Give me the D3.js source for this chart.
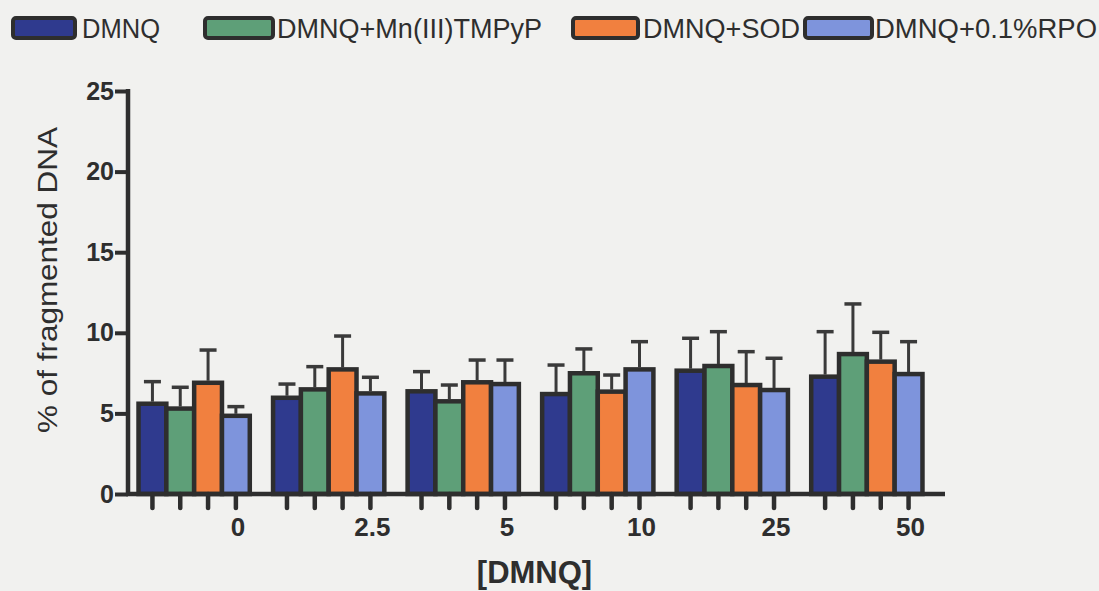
<!DOCTYPE html>
<html>
<head>
<meta charset="utf-8">
<script src="https://cdn.jsdelivr.net/npm/d3@7"></script>
<style>
  html, body { margin: 0; padding: 0; background: #f1f1ef; }
  svg { display: block; }
  text { font-family: "Liberation Sans", Arial, Helvetica, sans-serif; fill: #2e2e2e; }
</style>
</head>
<body>
<svg id="chart" width="1099" height="591"></svg>
<script>
// DMNQ concentrations on the x axis
const categories = ["0", "2.5", "5", "10", "25", "50"];
const seriesNames = ["DMNQ", "DMNQ+Mn(III)TMPyP", "DMNQ+SOD", "DMNQ+0.1%RPO"];
const seriesColors = ["#2f3a8e", "#5e9f78", "#f1803f", "#7e94dc"];

// Mean % of fragmented DNA per series, one entry per concentration
const meanDMNQ   = [5.60, 5.97, 6.37, 6.20, 7.65, 7.28];
const meanMn     = [5.30, 6.49, 5.75, 7.49, 7.94, 8.68];
const meanSOD    = [6.90, 7.73, 6.93, 6.35, 6.76, 8.21];
const meanRPO    = [4.85, 6.24, 6.82, 7.73, 6.45, 7.44];

// Upper error (SEM) per series
const errDMNQ    = [1.37, 0.85, 1.22, 1.80, 2.01, 2.79];
const errMn      = [1.32, 1.41, 1.01, 1.51, 2.13, 3.11];
const errSOD     = [2.03, 2.07, 1.38, 1.03, 2.07, 1.82];
const errRPO     = [0.57, 1.00, 1.49, 1.72, 1.97, 2.01];

const yTicks = [0, 5, 10, 15, 20, 25];

const means = [meanDMNQ, meanMn, meanSOD, meanRPO];
const errs = [errDMNQ, errMn, errSOD, errRPO];

const data = categories.map((c, gi) => ({
  cat: c,
  values: seriesNames.map((s, si) => ({ series: s, si, mean: means[si][gi], err: errs[si][gi] }))
}));

const svg = d3.select("#chart");
const ink = "#2e2e2e";

const axisLeftX = 128, axisRightX = 945, axisBottomY = 494, axisTopY = 91;

const y = d3.scaleLinear().domain([0, 25]).range([axisBottomY, axisTopY]);
const x0 = d3.scaleBand().domain(categories).range([117, 944]).paddingInner(0.173).paddingOuter(0.16);
const x1 = d3.scaleBand().domain(d3.range(seriesNames.length)).range([0, x0.bandwidth()]);

// Bars
const groups = svg.append("g").selectAll("g").data(data).join("g")
  .attr("transform", d => `translate(${x0(d.cat)},0)`);

groups.selectAll("rect").data(d => d.values).join("rect")
  .attr("x", d => x1(d.si))
  .attr("y", d => y(d.mean))
  .attr("width", x1.bandwidth())
  .attr("height", d => y(0) - y(d.mean))
  .attr("fill", d => seriesColors[d.si])
  .attr("stroke", ink)
  .attr("stroke-width", 4.5);

// Upper error bars
const capW = 17;
groups.selectAll("line.stem").data(d => d.values).join("line")
  .attr("class", "stem")
  .attr("x1", d => x1(d.si) + x1.bandwidth() / 2)
  .attr("x2", d => x1(d.si) + x1.bandwidth() / 2)
  .attr("y1", d => y(d.mean) - 2)
  .attr("y2", d => y(d.mean + d.err))
  .attr("stroke", "#3a3a3a")
  .attr("stroke-width", 3);
groups.selectAll("line.cap").data(d => d.values).join("line")
  .attr("class", "cap")
  .attr("x1", d => x1(d.si) + x1.bandwidth() / 2 - capW / 2)
  .attr("x2", d => x1(d.si) + x1.bandwidth() / 2 + capW / 2)
  .attr("y1", d => y(d.mean + d.err))
  .attr("y2", d => y(d.mean + d.err))
  .attr("stroke", "#3a3a3a")
  .attr("stroke-width", 3.5);

// Y axis
const yAxis = d3.axisLeft(y).tickValues(yTicks).tickSize(13).tickSizeOuter(0).tickPadding(1);
const yg = svg.append("g").attr("transform", `translate(${axisLeftX},0)`).call(yAxis);
yg.select(".domain").remove();
yg.selectAll(".tick line").attr("stroke", ink).attr("stroke-width", 4);
yg.selectAll(".tick text")
  .attr("font-size", 25).attr("font-weight", "bold")
  .attr("font-family", "Liberation Sans, Arial, sans-serif")
  .attr("fill", ink);
svg.append("line")
  .attr("x1", axisLeftX).attr("x2", axisLeftX)
  .attr("y1", y(25) - 2).attr("y2", axisBottomY + 2)
  .attr("stroke", ink).attr("stroke-width", 4.5);

// X axis: baseline, one tick per bar, a label under each group's last bar
svg.append("line")
  .attr("x1", axisLeftX - 2).attr("x2", axisRightX)
  .attr("y1", axisBottomY).attr("y2", axisBottomY)
  .attr("stroke", ink).attr("stroke-width", 4.5);

groups.selectAll("line.xt").data(d => d.values).join("line")
  .attr("class", "xt")
  .attr("x1", d => x1(d.si) + x1.bandwidth() / 2)
  .attr("x2", d => x1(d.si) + x1.bandwidth() / 2)
  .attr("y1", axisBottomY)
  .attr("y2", axisBottomY + 14)
  .attr("stroke", ink).attr("stroke-width", 4.5)
  .attr("stroke-linecap", "round");

groups.append("text")
  .attr("x", x1(seriesNames.length - 1) + x1.bandwidth() / 2 + 2)
  .attr("y", 536)
  .attr("text-anchor", "middle")
  .attr("font-size", 26).attr("font-weight", "bold")
  .text(d => d.cat);

// Axis titles
svg.append("text")
  .attr("x", (axisLeftX + axisRightX) / 2 - 2)
  .attr("y", 583)
  .attr("text-anchor", "middle")
  .attr("font-size", 31).attr("font-weight", "bold")
  .text("[DMNQ]");

svg.append("text")
  .attr("transform", "translate(57,280) rotate(-90)")
  .attr("text-anchor", "middle")
  .attr("font-size", 28)
  .attr("textLength", 306).attr("lengthAdjust", "spacingAndGlyphs")
  .text("% of fragmented DNA");

// Legend
const legendSwatchX = [13, 205, 573, 805];
const legendSwatchW = [62, 68, 65, 67];
const legendTextX = [82, 277, 643, 875];
const legendTextW = [78, 265, 157, 222];
const legend = svg.append("g").selectAll("g").data(seriesNames).join("g");
legend.append("rect")
  .attr("x", (d, i) => legendSwatchX[i])
  .attr("y", 18)
  .attr("width", (d, i) => legendSwatchW[i])
  .attr("height", 20)
  .attr("rx", 3)
  .attr("fill", (d, i) => seriesColors[i])
  .attr("stroke", ink).attr("stroke-width", 4);
legend.append("text")
  .attr("x", (d, i) => legendTextX[i])
  .attr("y", 38)
  .attr("font-size", 27)
  .attr("textLength", (d, i) => legendTextW[i])
  .attr("lengthAdjust", "spacingAndGlyphs")
  .attr("fill", "#3a3a3a")
  .text(d => d);
</script>
</body>
</html>
